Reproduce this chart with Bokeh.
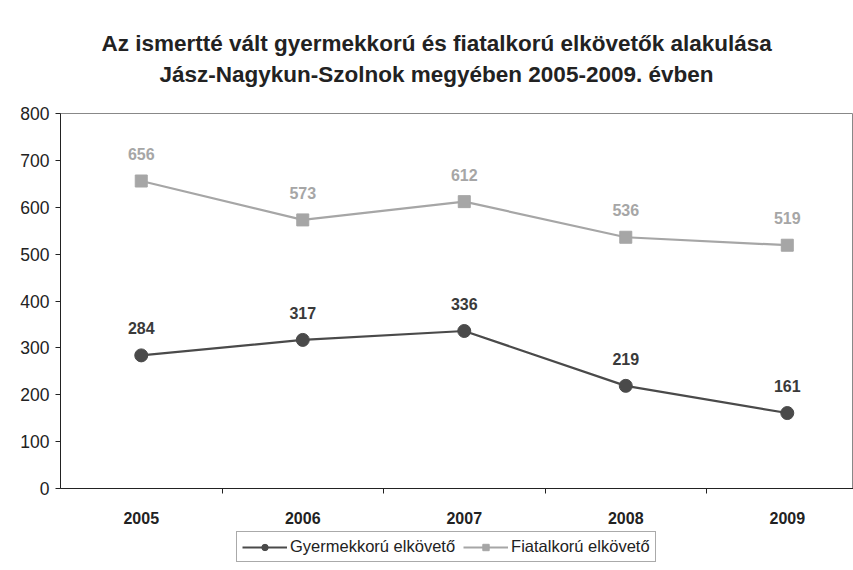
from bokeh.plotting import figure
from bokeh.layouts import column
from bokeh.models import (ColumnDataSource, Range1d, FixedTicker, LinearAxis, Legend,
                          LegendItem, Title)
from bokeh.core.properties import value
from bokeh.embed import file_html
from bokeh.resources import INLINE

years = ["2005", "2006", "2007", "2008", "2009"]
gyermek = [284, 317, 336, 219, 161]
fiatal = [656, 573, 612, 536, 519]
series_names = ["Gyermekkorú elkövető", "Fiatalkorú elkövető"]
title_lines = ["Az ismertté vált gyermekkorú és fiatalkorú elkövetők alakulása",
               "Jász-Nagykun-Szolnok megyében 2005-2009. évben"]
y_ticks = [0, 100, 200, 300, 400, 500, 600, 700, 800]

FONT = "Liberation Sans"
DARK = "#4a4a4a"
LIGHT = "#a6a6a6"

xs = list(range(len(years)))
src = ColumnDataSource(dict(x=xs, g=gyermek, f=fiatal,
                            gl=[str(v) for v in gyermek], fl=[str(v) for v in fiatal]))

p = figure(output_backend="svg", toolbar_location=None,
           width=853, height=530, frame_width=793, frame_height=375,
           x_range=Range1d(-0.5, len(years) - 0.5 - 0.09), y_range=Range1d(0, 800),
           min_border_left=60, min_border_right=0, min_border_top=113, min_border_bottom=42,
           x_axis_type=None, y_axis_type=None)
p.background_fill_color = "white"
p.border_fill_color = "white"
p.outline_line_color = "#888888"
p.outline_line_width = 1
p.xgrid.visible = False
p.ygrid.visible = False

# spacer between titles and frame, then the two title lines
spacer = Title(text=" ", text_font_size="17px", standoff=4)
p.add_layout(spacer, "above")
for line, off in reversed(list(zip(title_lines, [41, 99]))):
    t = Title(text=line, align="left", offset=off, text_font=FONT,
              text_font_size="22.5px", text_font_style="bold", text_color="#222222",
              standoff=4)
    p.add_layout(t, "above")

# y axis
yax = LinearAxis(ticker=FixedTicker(ticks=y_ticks))
yax.axis_line_color = "#222222"
yax.major_tick_line_color = "#222222"
yax.major_tick_out = 5
yax.major_tick_in = 0
yax.minor_tick_line_color = None
yax.major_label_text_font = FONT
yax.major_label_text_font_size = "17.5px"
yax.major_label_text_color = "#222222"
yax.major_label_standoff = 6
p.add_layout(yax, "left")

# x axis: boundary ticks
bounds = [i + 0.5 for i in xs]
xax = LinearAxis(ticker=FixedTicker(ticks=bounds))
xax.axis_line_color = "#222222"
xax.major_tick_line_color = "#222222"
xax.major_tick_out = 5
xax.major_tick_in = 0
xax.minor_tick_line_color = None
xax.major_label_text_alpha = 0
xax.major_label_text_font_size = "1px"
xax.major_label_standoff = 0
p.add_layout(xax, "below")

# x axis: category labels
xlab = LinearAxis(ticker=FixedTicker(ticks=xs),
                  major_label_overrides={i: y for i, y in zip(xs, years)})
xlab.axis_line_color = None
xlab.major_tick_line_color = None
xlab.minor_tick_line_color = None
xlab.major_label_text_font = FONT
xlab.major_label_text_font_size = "16px"
xlab.major_label_text_font_style = "bold"
xlab.major_label_text_color = "#222222"
xlab.major_label_standoff = 12
p.add_layout(xlab, "below")

# series
p.line("x", "g", source=src, line_color=DARK, line_width=2.2)
p.scatter("x", "g", source=src, marker="circle", size=13, fill_color=DARK, line_color=DARK)
p.line("x", "f", source=src, line_color=LIGHT, line_width=2.2)
p.scatter("x", "f", source=src, marker="square", size=12, fill_color=LIGHT, line_color=LIGHT)

p.text("x", "g", text="gl", source=src, y_offset=-21, text_align="center",
       text_baseline="bottom", text_font=value(FONT), text_font_size="16px",
       text_font_style="bold", text_color="#3a3a3a")
p.text("x", "f", text="fl", source=src, y_offset=-21, text_align="center",
       text_baseline="bottom", text_font=value(FONT), text_font_size="16px",
       text_font_style="bold", text_color=LIGHT)

# legend strip (separate small figure so the legend is not clipped)
p2 = figure(output_backend="svg", toolbar_location=None, width=853, height=40,
            x_range=Range1d(100, 101), y_range=Range1d(10000, 10001),
            min_border=0, x_axis_type=None, y_axis_type=None)
p2.outline_line_color = None
p2.xgrid.visible = False
p2.ygrid.visible = False
p2.background_fill_color = "white"
p2.border_fill_color = "white"
lg = p2.line("x", "g", source=src, line_color=DARK, line_width=2.2)
sg = p2.scatter("x", "g", source=src, marker="circle", size=13, fill_color=DARK,
                line_color=DARK)
lf = p2.line("x", "f", source=src, line_color=LIGHT, line_width=2.2)
sf = p2.scatter("x", "f", source=src, marker="square", size=12, fill_color=LIGHT,
                line_color=LIGHT)

legend = Legend(items=[LegendItem(label=series_names[0], renderers=[lg, sg]),
                       LegendItem(label=series_names[1], renderers=[lf, sf])],
                orientation="horizontal", location=(176, 8))
legend.label_text_font = FONT
legend.label_text_font_size = "16.5px"
legend.label_text_color = "#222222"
legend.border_line_color = "#555555"
legend.border_line_width = 1
legend.glyph_width = 45
legend.glyph_height = 16
legend.label_standoff = 3
legend.spacing = 8
legend.padding = 5
legend.margin = 0
legend.label_height = 16
p2.add_layout(legend, "center")

open("out.html", "w").write(file_html(column(p, p2, spacing=0), INLINE))
